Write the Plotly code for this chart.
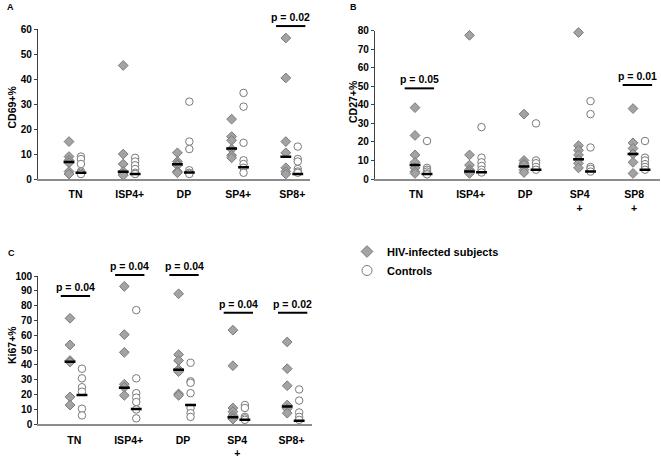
import plotly.graph_objects as go

# ---------------- data ----------------
categories_A = ["TN", "ISP4+", "DP", "SP4+", "SP8+"]
categories_B = ["TN", "ISP4+", "DP", "SP4<br>+", "SP8<br>+"]
categories_C = ["TN", "ISP4+", "DP", "SP4<br>+", "SP8+"]

cd69_hiv = [[15, 9, 7.5, 6.5, 3, 2], [45.5, 10, 6, 3, 2, 1.5], [10.5, 7, 6, 5.5, 3, 2.5],
            [24, 17, 15.5, 12, 9.5, 8.5], [56.5, 40.5, 15, 10.5, 4.5, 3, 2]]
cd69_ctrl = [[9, 8, 6, 3, 2.5, 2], [8.5, 7, 5.5, 4, 2.5, 2], [31, 15, 12, 3.5, 2.5, 2],
             [34.5, 29, 14.5, 7.5, 6, 4.5, 2.5], [13, 8, 7, 4, 3, 2.5]]
cd69_hiv_med = [6.8, 2.9, 5.9, 12.2, 8.9]
cd69_ctrl_med = [2.5, 2.0, 2.6, 4.7, 2.0]
cd69_p = [(4, "p = 0.02", 61.3)]

cd27_hiv = [[38.5, 23.5, 13, 9, 6, 4, 3], [77.5, 13, 7.5, 5, 4, 3], [35, 10, 8.5, 7.5, 5, 3.5],
            [79, 18, 15.5, 13, 10.5, 8.5, 6], [38, 19.5, 16.5, 13.5, 9, 3]]
cd27_ctrl = [[20.5, 6, 5, 4, 3, 2.5], [28, 11.5, 9, 7, 5, 3.5], [30, 10, 8.5, 6.5, 5],
             [42, 35, 17, 6.5, 5.5, 4], [20.5, 11.5, 10, 8, 6.5, 5]]
cd27_hiv_med = [7.5, 4.0, 6.8, 10.6, 13.5]
cd27_ctrl_med = [2.7, 3.6, 5.0, 4.0, 5.0]
cd27_p = [(0, "p = 0.05", 48.9), (4, "p = 0.01", 50.7)]

ki67_hiv = [[71.5, 53.5, 43, 42, 18.5, 13], [93, 60.5, 48.5, 27, 25, 19.5],
            [88, 47, 43, 37, 35.5, 20.5, 19.5], [63.5, 39.5, 11, 8.5, 6, 4.5, 3.5],
            [55.5, 37.5, 26, 13, 10.5, 7.5]]
ki67_ctrl = [[37.5, 31, 25, 22, 10.5, 6], [77, 31, 21, 18, 15, 10, 4],
             [41.5, 29, 28, 21, 11, 7.5, 5], [13, 11, 5, 4, 3], [23.5, 16, 8, 5, 3]]
ki67_hiv_med = [42.2, 24.7, 36.8, 4.8, 12.0]
ki67_ctrl_med = [19.8, 10.3, 13.0, 3.0, 2.4]
ki67_p = [(0, "p = 0.04", 86.5), (1, "p = 0.04", 100.7), (2, "p = 0.04", 100.7),
          (3, "p = 0.04", 75.3), (4, "p = 0.02", 75.3)]

y_titles = ["CD69+%", "CD27+%", "Ki67+%"]
panel_letters = ["A", "B", "C"]
series_names = ["HIV-infected subjects", "Controls"]

# ---------------- layout helpers ----------------
W, H = 661, 458
FONT = "Liberation Sans, Arial, sans-serif"


def dom_x(a, b):
    return [a / W, b / W]


def dom_y(top, bottom):
    return [1 - bottom / H, 1 - top / H]


panels = [
    dict(cats=categories_A, hiv=cd69_hiv, ctrl=cd69_ctrl, hmed=cd69_hiv_med, cmed=cd69_ctrl_med,
         p=cd69_p, ymax=60, xd=(38, 310), yd=(29.3, 179), xr=(-0.572, 4.446), tick=0.12, pc=0.09,
         title=(11.5, 107), letter=(10, 7)),
    dict(cats=categories_B, hiv=cd27_hiv, ctrl=cd27_ctrl, hmed=cd27_hiv_med, cmed=cd27_ctrl_med,
         p=cd27_p, ymax=80, xd=(375, 660), yd=(30.7, 179), xr=(-0.734, 4.495), tick=0.02, pc=0.08,
         title=(353, 102), letter=(353, 7)),
    dict(cats=categories_C, hiv=ki67_hiv, ctrl=ki67_ctrl, hmed=ki67_hiv_med, cmed=ki67_ctrl_med,
         p=ki67_p, ymax=100, xd=(38.3, 311.7), yd=(276, 424.3), xr=(-0.584, 4.451), tick=0.08, pc=0.1,
         title=(12, 345), letter=(11, 253)),
]

CIRC_OFF = 0.22
HALF_BAR = 0.1
P_HALF = 0.27
DIA_STYLE = dict(symbol="diamond", color="#a3a3a3", line=dict(color="#7a7a7a", width=1))
CIR_STYLE = dict(symbol="circle", color="white", line=dict(color="#7a7a7a", width=1))

fig = go.Figure()
annotations = []
shapes = []

for k, pn in enumerate(panels):
    sfx = "" if k == 0 else str(k + 1)
    xa, ya = "x" + sfx, "y" + sfx
    # HIV diamonds
    xs, ys = [], []
    for i, vals in enumerate(pn["hiv"]):
        xs += [i] * len(vals)
        ys += vals
    fig.add_trace(go.Scatter(
        x=xs, y=ys, mode="markers", xaxis=xa, yaxis=ya, cliponaxis=False,
        name=series_names[0], showlegend=False, marker=dict(size=7.5, **DIA_STYLE)))
    # Control circles
    xs, ys = [], []
    for i, vals in enumerate(pn["ctrl"]):
        xs += [i + CIRC_OFF] * len(vals)
        ys += vals
    fig.add_trace(go.Scatter(
        x=xs, y=ys, mode="markers", xaxis=xa, yaxis=ya, cliponaxis=False,
        name=series_names[1], showlegend=False, marker=dict(size=7.5, **CIR_STYLE)))
    # median bars
    mx, my = [], []
    for i, m in enumerate(pn["hmed"]):
        mx += [i - HALF_BAR, i + HALF_BAR, None]
        my += [m, m, None]
    for i, m in enumerate(pn["cmed"]):
        c = i + CIRC_OFF
        mx += [c - HALF_BAR, c + HALF_BAR, None]
        my += [m, m, None]
    fig.add_trace(go.Scatter(x=mx, y=my, mode="lines", xaxis=xa, yaxis=ya, showlegend=False,
                             line=dict(color="black", width=2.5), hoverinfo="skip"))

    # axes
    fig.update_layout(**{
        "xaxis" + sfx: dict(
            domain=dom_x(*pn["xd"]), range=list(pn["xr"]), anchor=ya, automargin=False,
            tickvals=[i + pn["tick"] for i in range(5)], ticktext=pn["cats"],
            showline=True, linecolor="#8c8c8c", linewidth=1.5, showgrid=False, zeroline=False,
            ticks="outside", ticklen=5, tickcolor="rgba(0,0,0,0)",
            tickfont=dict(family=FONT, size=10.5, color="black", weight="bold"),
            fixedrange=True),
        "yaxis" + sfx: dict(
            domain=dom_y(*pn["yd"]), range=[0, pn["ymax"]], anchor=xa, automargin=False,
            tickmode="linear", tick0=0, dtick=10,
            showline=True, linecolor="#404040", linewidth=1.2, showgrid=False, zeroline=False,
            ticks="outside", ticklen=3, tickcolor="#404040",
            tickfont=dict(family=FONT, size=10, color="black", weight="bold"),
            fixedrange=True),
    })

    # p-values
    for (ci, txt, lvl) in pn["p"]:
        c = ci + pn["pc"]
        shapes.append(dict(type="line", xref=xa, yref=ya + " domain",
                           x0=c - P_HALF, x1=c + P_HALF, y0=lvl / pn["ymax"], y1=lvl / pn["ymax"],
                           line=dict(color="black", width=2)))
        annotations.append(dict(xref=xa, yref=ya + " domain", x=c, y=lvl / pn["ymax"],
                                text=txt, showarrow=False, yanchor="bottom", yshift=1,
                                font=dict(family=FONT, size=10.5, color="black", weight="bold")))

    # y title
    tx, ty = pn["title"]
    annotations.append(dict(xref="paper", yref="paper", x=tx / W, y=1 - ty / H, text=y_titles[k],
                            textangle=-90, showarrow=False, xanchor="center", yanchor="middle",
                            font=dict(family=FONT, size=10.5, color="black", weight="bold")))
    lx, ly = pn["letter"]
    annotations.append(dict(xref="paper", yref="paper", x=lx / W, y=1 - ly / H, text=panel_letters[k],
                            showarrow=False, xanchor="center", yanchor="middle",
                            font=dict(family=FONT, size=9, color="black", weight="bold")))

# legend entries (no data points of their own)
fig.add_trace(go.Scatter(x=[None], y=[None], mode="markers", name=series_names[0],
                         marker=dict(size=9, **DIA_STYLE)))
fig.add_trace(go.Scatter(x=[None], y=[None], mode="markers", name=series_names[1],
                         marker=dict(size=10, **CIR_STYLE)))

fig.update_layout(
    width=W, height=H, margin=dict(l=0, r=0, t=0, b=0, autoexpand=False),
    paper_bgcolor="white", plot_bgcolor="white",
    annotations=annotations, shapes=shapes,
    showlegend=True,
    legend=dict(x=347 / W, y=1 - 237 / H, xanchor="left", yanchor="top",
                bgcolor="rgba(0,0,0,0)", tracegroupgap=0, itemsizing="trace",
                font=dict(family=FONT, size=11, color="black", weight="bold")),
)

fig.write_html("out.html", config={"displayModeBar": False},
               post_script="document.body.style.margin='0';document.body.style.overflow='hidden';")
